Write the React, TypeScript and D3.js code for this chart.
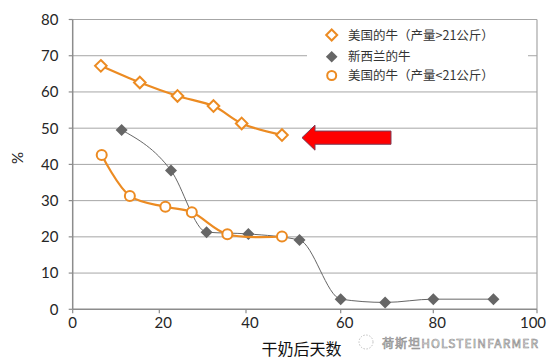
import React, { useEffect, useRef } from "react";
import * as d3 from "d3";

// ---- data ----
const usHighDays = [6.5, 15.5, 24.2, 32.5, 39, 47.6];
const usHighPct = [67.2, 62.6, 58.9, 56.1, 51.3, 48.1];

const nzDays = [11.3, 22.7, 30.9, 40.5, 51.3, 60, 69.6, 80, 91.6];
const nzPct = [49.5, 38.3, 21.3, 20.8, 19.1, 2.8, 1.9, 2.8, 2.8];

const usLowDays = [6.7, 13.2, 21.4, 27.5, 35.7, 47.6];
const usLowPct = [42.6, 31.3, 28.3, 26.8, 20.7, 20.1];

const xTicks = [0, 20, 40, 60, 80, 100];
const yTicks = [0, 10, 20, 30, 40, 50, 60, 70, 80];
const legendLabels = ["美国的牛（产量>21公斤）", "新西兰的牛", "美国的牛（产量<21公斤）"];
const xTitle = "干奶后天数";
const yTitle = "%";
const watermark = "荷斯坦HOLSTEINFARMER";

const W = 560;
const H = 362;
const ORANGE = "#EC8B22";
const GRAY = "#666666";
const FONT = "Lato, 'Noto Sans CJK SC', sans-serif";
const CJK = "'Noto Sans CJK SC', sans-serif";

export default function App() {
  const ref = useRef<SVGSVGElement | null>(null);

  useEffect(() => {
    document.body.style.margin = "0";
    const svg = d3.select(ref.current);
    svg.selectAll("*").remove();

    const x = d3
      .scaleLinear()
      .domain([0, 20, 40, 60, 80, 100])
      .range([72.7, 159.3, 246, 340.7, 433.3, 537]);
    const y = d3.scaleLinear().domain([0, 80]).range([309.3, 19.5]);

    svg.append("rect").attr("width", W).attr("height", H).attr("fill", "#fff");

    // gridlines
    svg
      .append("g")
      .selectAll("line")
      .data(yTicks.filter((t) => t > 0))
      .join("line")
      .attr("x1", x(0))
      .attr("x2", x(100))
      .attr("y1", (d) => y(d))
      .attr("y2", (d) => y(d))
      .attr("stroke", "#A6A6A6")
      .attr("stroke-width", 1);

    // right border
    svg
      .append("line")
      .attr("x1", x(100))
      .attr("x2", x(100))
      .attr("y1", y(80))
      .attr("y2", y(0))
      .attr("stroke", "#A6A6A6")
      .attr("stroke-width", 1.2);

    // axes
    const axisColor = "#8C8C8C";
    svg
      .append("line")
      .attr("x1", x(0))
      .attr("x2", x(0))
      .attr("y1", y(80))
      .attr("y2", y(0))
      .attr("stroke", axisColor)
      .attr("stroke-width", 1.5);
    svg
      .append("line")
      .attr("x1", x(0))
      .attr("x2", x(100))
      .attr("y1", y(0))
      .attr("y2", y(0))
      .attr("stroke", axisColor)
      .attr("stroke-width", 1.5);

    svg
      .append("g")
      .selectAll("line")
      .data(yTicks)
      .join("line")
      .attr("x1", x(0) - 4)
      .attr("x2", x(0))
      .attr("y1", (d) => y(d))
      .attr("y2", (d) => y(d))
      .attr("stroke", axisColor)
      .attr("stroke-width", 1.2);
    svg
      .append("g")
      .selectAll("line")
      .data(xTicks)
      .join("line")
      .attr("x1", (d) => x(d))
      .attr("x2", (d) => x(d))
      .attr("y1", y(0))
      .attr("y2", y(0) + 4)
      .attr("stroke", axisColor)
      .attr("stroke-width", 1.2);

    // tick labels
    svg
      .append("g")
      .selectAll("text")
      .data(yTicks)
      .join("text")
      .attr("x", 58.5)
      .attr("y", (d) => y(d))
      .attr("dy", "0.36em")
      .attr("text-anchor", "end")
      .attr("font-family", FONT)
      .attr("font-size", 15)
      .attr("fill", "#262626")
      .text((d) => String(d));
    svg
      .append("g")
      .selectAll("text")
      .data(xTicks)
      .join("text")
      .attr("x", (d) => x(d) + (d === 0 ? 0 : d === 100 ? -4 : 4))
      .attr("y", 328)
      .attr("text-anchor", "middle")
      .attr("font-family", FONT)
      .attr("font-size", 15)
      .attr("fill", "#262626")
      .text((d) => String(d));

    // axis titles
    svg
      .append("text")
      .attr("x", 301.5)
      .attr("y", 355)
      .attr("text-anchor", "middle")
      .attr("font-family", CJK)
      .attr("font-size", 16)
      .attr("fill", "#111")
      .text(xTitle);
    svg
      .append("text")
      .attr("transform", `translate(23,${158}) rotate(-90)`)
      .attr("text-anchor", "middle")
      .attr("font-family", FONT)
      .attr("font-size", 15)
      .attr("fill", "#262626")
      .text(yTitle);

    const lineCR = d3
      .line<[number, number]>()
      .x((d) => x(d[0]))
      .y((d) => y(d[1]))
      .curve(d3.curveCatmullRom.alpha(0.5));
    const lineMono = d3
      .line<[number, number]>()
      .x((d) => x(d[0]))
      .y((d) => y(d[1]))
      .curve(d3.curveMonotoneX);

    const s1 = usHighDays.map((d, i) => [d, usHighPct[i]] as [number, number]);
    const s2 = nzDays.map((d, i) => [d, nzPct[i]] as [number, number]);
    const s3 = usLowDays.map((d, i) => [d, usLowPct[i]] as [number, number]);

    const diamond = (r: number) => `M0,${-r}L${r},0L0,${r}L${-r},0Z`;

    // series 1
    svg
      .append("path")
      .attr("d", lineCR(s1))
      .attr("fill", "none")
      .attr("stroke", ORANGE)
      .attr("stroke-width", 2.2);
    svg
      .append("g")
      .selectAll("path")
      .data(s1)
      .join("path")
      .attr("transform", (d) => `translate(${x(d[0])},${y(d[1])})`)
      .attr("d", diamond(5.8))
      .attr("fill", "#fff")
      .attr("stroke", ORANGE)
      .attr("stroke-width", 2);

    // series 2
    svg
      .append("path")
      .attr("d", lineMono(s2))
      .attr("fill", "none")
      .attr("stroke", GRAY)
      .attr("stroke-width", 1);
    svg
      .append("g")
      .selectAll("path")
      .data(s2)
      .join("path")
      .attr("transform", (d) => `translate(${x(d[0])},${y(d[1])})`)
      .attr("d", diamond(6))
      .attr("fill", GRAY)
      .attr("stroke", "none");

    // series 3
    svg
      .append("path")
      .attr("d", lineCR(s3))
      .attr("fill", "none")
      .attr("stroke", ORANGE)
      .attr("stroke-width", 2.2);
    svg
      .append("g")
      .selectAll("circle")
      .data(s3)
      .join("circle")
      .attr("cx", (d) => x(d[0]))
      .attr("cy", (d) => y(d[1]))
      .attr("r", 5)
      .attr("fill", "#fff")
      .attr("stroke", ORANGE)
      .attr("stroke-width", 2);

    // legend
    const lg = svg.append("g");
    lg.append("rect")
      .attr("x", 307)
      .attr("y", 24)
      .attr("width", 221)
      .attr("height", 65)
      .attr("fill", "#fff");
    const ly = [35, 56.7, 75.5];
    const lx = 331.7;
    lg.append("path")
      .attr("transform", `translate(${lx},${ly[0]})`)
      .attr("d", diamond(5.5))
      .attr("fill", "#fff")
      .attr("stroke", ORANGE)
      .attr("stroke-width", 2);
    lg.append("path")
      .attr("transform", `translate(${lx},${ly[1]})`)
      .attr("d", diamond(5.8))
      .attr("fill", GRAY);
    lg.append("circle")
      .attr("cx", lx)
      .attr("cy", ly[2])
      .attr("r", 4.5)
      .attr("fill", "#fff")
      .attr("stroke", ORANGE)
      .attr("stroke-width", 2);
    lg.selectAll("text")
      .data(legendLabels)
      .join("text")
      .attr("x", 348)
      .attr("y", (_, i) => ly[i])
      .attr("dy", "0.36em")
      .attr("font-family", CJK)
      .attr("font-size", 12.5)
      .attr("fill", "#333")
      .text((d) => d);

    // red arrow pointing at the last >21kg point
    const last = s1[s1.length - 1];
    const tx = x(last[0]) + 20;
    const ty = y(last[1]) + 2.6;
    const arrow = d3.path();
    arrow.moveTo(tx, ty);
    arrow.lineTo(tx + 13, ty - 12.5);
    arrow.lineTo(tx + 13, ty - 6.6);
    arrow.lineTo(tx + 89, ty - 6.6);
    arrow.lineTo(tx + 89, ty + 6.6);
    arrow.lineTo(tx + 13, ty + 6.6);
    arrow.lineTo(tx + 13, ty + 12.5);
    arrow.closePath();
    svg
      .append("path")
      .attr("d", arrow.toString())
      .attr("fill", "#FF0000")
      .attr("stroke", "#7a3b55")
      .attr("stroke-width", 1);

    // watermark
    const wm = svg.append("g");
    wm.append("circle")
      .attr("cx", 366)
      .attr("cy", 342)
      .attr("r", 7)
      .attr("fill", "none")
      .attr("stroke", "#b0b0b0")
      .attr("stroke-width", 0.8)
      .attr("stroke-dasharray", "1.5,1.5");
    wm.append("text")
      .attr("x", 382)
      .attr("y", 348)
      .attr("font-family", CJK)
      .attr("font-size", 12)
      .attr("textLength", 156)
      .attr("fill", "#f6f6f6")
      .attr("stroke", "#8a8a8a")
      .attr("stroke-width", 0.6)
      .text(watermark);
  }, []);

  return (
    <svg
      ref={ref}
      width={W}
      height={H}
      style={{ position: "absolute", left: 0, top: 0, display: "block" }}
    />
  );
}
